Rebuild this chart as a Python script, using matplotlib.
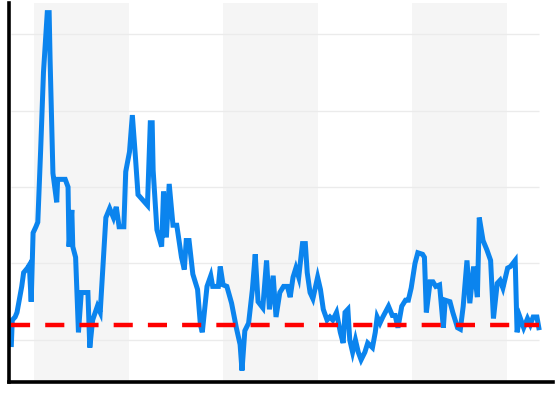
import matplotlib
matplotlib.use("Agg")
import matplotlib.pyplot as plt

# time in years from the start of the first shaded period
t = [-0.24, -0.23, -0.20, -0.18, -0.13, -0.11, -0.07, -0.05, -0.03, -0.01,
     0.02, 0.04, 0.07, 0.10, 0.14, 0.16, 0.17, 0.20, 0.24, 0.25,
     0.30, 0.33, 0.36, 0.37, 0.40, 0.41, 0.44, 0.47, 0.50, 0.57,
     0.59, 0.62, 0.67, 0.70, 0.74, 0.76, 0.80, 0.84, 0.87, 0.90,
     0.95, 0.97, 1.01, 1.04, 1.07, 1.10, 1.20, 1.23, 1.25, 1.26,
     1.30, 1.35, 1.37, 1.40, 1.43, 1.47, 1.51, 1.56, 1.59, 1.61,
     1.64, 1.68, 1.73, 1.76, 1.78, 1.83, 1.87, 1.89, 1.95, 1.97,
     2.00, 2.04, 2.09, 2.14, 2.18, 2.20, 2.23, 2.27, 2.31, 2.34,
     2.37, 2.42, 2.46, 2.49, 2.53, 2.56, 2.60, 2.64, 2.68, 2.71,
     2.74, 2.77, 2.80, 2.84, 2.87, 2.89, 2.92, 2.95, 3.00, 3.03,
     3.06, 3.10, 3.13, 3.16, 3.20, 3.24, 3.27, 3.29, 3.32, 3.34,
     3.37, 3.40, 3.43, 3.46, 3.50, 3.53, 3.58, 3.61, 3.63, 3.66,
     3.69, 3.75, 3.79, 3.82, 3.85, 3.89, 3.93, 3.96, 3.99, 4.03,
     4.06, 4.11, 4.13, 4.15, 4.19, 4.22, 4.25, 4.29, 4.33, 4.35,
     4.40, 4.43, 4.48, 4.51, 4.54, 4.58, 4.61, 4.65, 4.69, 4.71,
     4.75, 4.79, 4.83, 4.86, 4.90, 4.93, 4.96, 5.01, 5.04, 5.09,
     5.11, 5.14, 5.18, 5.22, 5.25, 5.28, 5.32, 5.34]

values = [-0.3, 1.3, 1.5, 1.8, 3.5, 4.4, 4.7, 4.9, 2.5, 7.0,
          7.4, 7.7, 12.4, 17.5, 21.4, 21.4, 18.3, 10.9, 9.0, 10.5,
          10.5, 10.5, 10.0, 6.1, 8.5, 6.1, 5.4, 0.5, 3.1, 3.1,
          -0.5, 1.3, 2.2, 1.8, 5.9, 8.0, 8.6, 8.0, 8.7, 7.4,
          7.4, 11.0, 12.3, 14.7, 12.2, 9.5, 8.8, 14.2, 14.2, 11.1,
          7.2, 6.1, 9.7, 6.7, 10.2, 7.5, 7.5, 5.4, 4.6, 6.5,
          6.5, 4.3, 3.3, 1.0, 0.5, 3.5, 4.2, 3.5, 3.5, 4.8,
          3.6, 3.5, 2.4, 0.8, -0.3, -2.0, 0.6, 1.1, 3.3, 5.6,
          2.5, 2.1, 5.2, 2.0, 4.2, 1.5, 3.1, 3.5, 3.5, 2.8,
          4.1, 4.7, 4.1, 6.3, 6.3, 4.4, 3.1, 2.7, 4.1, 3.3,
          2.0, 1.3, 1.5, 1.3, 1.8, 0.5, -0.2, 1.8, 2.0, 0.0,
          -0.8, 0.0, -0.8, -1.3, -0.8, -0.2, -0.5, 0.5, 1.5, 1.1,
          1.5, 2.2, 1.6, 1.6, 0.8, 2.2, 2.6, 2.6, 3.4, 5.0,
          5.7, 5.6, 5.4, 1.8, 3.8, 3.8, 3.5, 3.6, 0.8, 2.6,
          2.5, 1.8, 0.8, 0.7, 2.2, 5.2, 2.4, 4.8, 2.8, 8.0,
          6.5, 5.9, 5.2, 1.4, 3.7, 3.9, 3.4, 4.7, 4.8, 5.2,
          0.5, 1.5, 0.8, 1.4, 1.0, 1.5, 1.5, 0.8]

shaded = [(0, 1), (2, 3), (4, 5)]
grid_levels = [0, 5, 10, 15, 20]
reference = 1.0

fig = plt.figure(figsize=(5.6, 3.93), dpi=100)
ax = fig.add_axes([8.5 / 560, 11 / 393, 544.5 / 560, 379 / 393])

for start, end in shaded:
    ax.axvspan(start, end, color="#f5f5f5", lw=0, zorder=0)

ax.hlines(grid_levels, t[0], t[-1], colors="#ebebeb", lw=1, zorder=1)

ax.plot(t, values, color="#0b84ee", lw=3.6, solid_joinstyle="miter", zorder=2)
ax.plot([t[0], t[-1]], [reference, reference], color="#ff0000", lw=3.2,
        dashes=(4.3, 3.4), zorder=3)

ax.set_xlim(-0.27, 5.49)
ax.set_ylim(-2.75, 22.03)
ax.set_xticks([])
ax.set_yticks([])
for side in ("top", "right"):
    ax.spines[side].set_visible(False)
for side in ("left", "bottom"):
    ax.spines[side].set_linewidth(2.6)
    ax.spines[side].set_color("black")

fig.savefig("out.png", dpi=100)
